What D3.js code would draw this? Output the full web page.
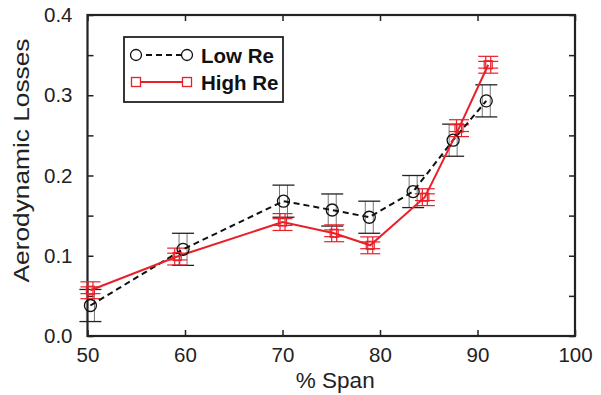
<!DOCTYPE html>
<html>
<head>
<meta charset="utf-8">
<script src="https://cdn.jsdelivr.net/npm/d3@7"></script>
<style>
  body { margin: 0; background: #fff; }
  svg { display: block; font-family: "Liberation Sans", Arial, sans-serif; }
</style>
</head>
<body>
<svg id="chart" width="601" height="395"></svg>
<script>
// values
var spanLow = [50.3, 59.8, 70.1, 75.1, 78.9, 83.4, 87.5, 90.9];
var lossLow = [0.038, 0.108, 0.168, 0.157, 0.148, 0.180, 0.244, 0.293];
var errLow = [0.02, 0.02, 0.02, 0.02, 0.02, 0.02, 0.02, 0.02];

var spanHigh = [50.3, 59.2, 70.0, 75.3, 79.0, 84.6, 88.1, 91.1];
var lossHigh = [0.057, 0.099, 0.142, 0.128, 0.113, 0.173, 0.259, 0.338];
var errHigh = [0.0105, 0.0105, 0.0105, 0.0105, 0.0105, 0.0105, 0.0105, 0.0105];

var xTicks = [50, 60, 70, 80, 90, 100];
var yTicks = [0.0, 0.1, 0.2, 0.3, 0.4];
var seriesNames = ["Low Re", "High Re"];

var svg = d3.select("#chart");
var pLeft = 87.5, pRight = 575, pTop = 15, pBottom = 336;

var x = d3.scaleLinear().domain([50, 100]).range([pLeft, pRight]);
var y = d3.scaleLinear().domain([0, 0.4]).range([pBottom, pTop]);

var low = spanLow.map(function(d, i) { return {x: d, y: lossLow[i], e: errLow[i]}; });
var high = spanHigh.map(function(d, i) { return {x: d, y: lossHigh[i], e: errHigh[i]}; });

// axes, ticks inward
var yMinor = d3.range(0, 0.4001, 0.05);
var g = svg.append("g");
g.append("g").attr("transform", "translate(0," + pBottom + ")")
    .call(d3.axisBottom(x).tickValues(xTicks).tickSize(-6).tickPadding(11).tickFormat(d3.format("d")));
g.append("g").attr("transform", "translate(0," + pTop + ")")
    .call(d3.axisTop(x).tickValues(xTicks).tickSize(-6).tickFormat(""));
g.append("g").attr("transform", "translate(" + pLeft + ",0)")
    .call(d3.axisLeft(y).tickValues(yMinor).tickSize(-6).tickPadding(15)
        .tickFormat(function(d) { return yTicks.some(function(t) { return Math.abs(t - d) < 1e-9; }) ? d3.format(".1f")(d) : ""; }));
g.append("g").attr("transform", "translate(" + pRight + ",0)")
    .call(d3.axisRight(y).tickValues(yMinor).tickSize(-6).tickFormat(""));
g.selectAll(".domain").remove();
g.selectAll(".tick line").attr("stroke", "#222").attr("stroke-width", 1.5);
g.selectAll(".tick text").attr("fill", "#222").attr("font-size", 20.5);

svg.append("rect").attr("x", pLeft).attr("y", pTop)
    .attr("width", pRight - pLeft).attr("height", pBottom - pTop)
    .attr("fill", "none").attr("stroke", "#222").attr("stroke-width", 2.2);

svg.append("text").attr("x", (pLeft + pRight) / 2 + 4).attr("y", 388)
    .attr("text-anchor", "middle").attr("font-size", 22.5).attr("fill", "#222").text("% Span");
svg.append("text").attr("transform", "translate(29," + ((pTop + pBottom) / 2 - 15) + ") rotate(-90)")
    .attr("text-anchor", "middle").attr("font-size", 22.5).attr("fill", "#222")
    .attr("textLength", 244).attr("lengthAdjust", "spacingAndGlyphs").text("Aerodynamic Losses");

var line = d3.line().x(function(d) { return x(d.x); }).y(function(d) { return y(d.y); });

// low Re error bars
var lowBars = svg.append("g").selectAll("g").data(low).enter().append("g");
lowBars.each(function(d) {
    var s = d3.select(this), cx = x(d.x), y1 = y(d.y + d.e), y2 = y(d.y - d.e);
    [-4, 4].forEach(function(o) {
        s.append("line").attr("x1", cx + o).attr("x2", cx + o).attr("y1", y1).attr("y2", y2)
            .attr("stroke", "#777").attr("stroke-width", 1);
    });
    [y1, y2].forEach(function(yy) {
        s.append("line").attr("x1", cx - 11).attr("x2", cx + 11).attr("y1", yy).attr("y2", yy)
            .attr("stroke", "#222").attr("stroke-width", 1.3);
    });
});

// high Re error bars
var highBars = svg.append("g").selectAll("g").data(high).enter().append("g");
highBars.each(function(d) {
    var s = d3.select(this), cx = x(d.x), y1 = y(d.y + d.e), y2 = y(d.y - d.e);
    [-2.5, 2.5].forEach(function(o) {
        s.append("line").attr("x1", cx + o).attr("x2", cx + o).attr("y1", y1).attr("y2", y2)
            .attr("stroke", "#e8202a").attr("stroke-width", 1.2);
    });
    [d.y + d.e, d.y + d.e * 0.4, d.y - d.e * 0.4, d.y - d.e].forEach(function(v) {
        s.append("line").attr("x1", cx - 10).attr("x2", cx + 10).attr("y1", y(v)).attr("y2", y(v))
            .attr("stroke", "#e8202a").attr("stroke-width", 1.2);
    });
});

svg.append("path").datum(low).attr("d", line).attr("fill", "none")
    .attr("stroke", "#111").attr("stroke-width", 2).attr("stroke-dasharray", "6,4");
svg.append("path").datum(high).attr("d", line).attr("fill", "none")
    .attr("stroke", "#e8202a").attr("stroke-width", 2);

svg.append("g").selectAll("circle").data(low).enter().append("circle")
    .attr("cx", function(d) { return x(d.x); }).attr("cy", function(d) { return y(d.y); })
    .attr("r", 6).attr("fill", "none").attr("stroke", "#111").attr("stroke-width", 1.3);
svg.append("g").selectAll("rect").data(high).enter().append("rect")
    .attr("x", function(d) { return x(d.x) - 4; }).attr("y", function(d) { return y(d.y) - 4; })
    .attr("width", 8).attr("height", 8).attr("fill", "none").attr("stroke", "#e8202a").attr("stroke-width", 1.2);

// legend
var leg = svg.append("g");
leg.append("rect").attr("x", 124).attr("y", 37).attr("width", 159).attr("height", 65)
    .attr("fill", "#fff").attr("stroke", "#222").attr("stroke-width", 1.8);
var rows = [55, 82];
leg.append("line").attr("x1", 136).attr("x2", 187).attr("y1", rows[0]).attr("y2", rows[0])
    .attr("stroke", "#111").attr("stroke-width", 2).attr("stroke-dasharray", "6,4");
[136, 187].forEach(function(px) {
    leg.append("circle").attr("cx", px).attr("cy", rows[0]).attr("r", 5.5)
        .attr("fill", "#fff").attr("stroke", "#111").attr("stroke-width", 1.3);
});
leg.append("line").attr("x1", 136).attr("x2", 187).attr("y1", rows[1]).attr("y2", rows[1])
    .attr("stroke", "#e8202a").attr("stroke-width", 2);
[136, 187].forEach(function(px) {
    leg.append("rect").attr("x", px - 4.5).attr("y", rows[1] - 4.5).attr("width", 9).attr("height", 9)
        .attr("fill", "#fff").attr("stroke", "#e8202a").attr("stroke-width", 1.3);
});
leg.selectAll("text.lab").data(seriesNames).enter().append("text").attr("class", "lab")
    .attr("x", 201).attr("y", function(d, i) { return rows[i] + 7.5; })
    .attr("font-size", 20.5).attr("font-weight", "bold").attr("fill", "#111").text(function(d) { return d; });
</script>
</body>
</html>
